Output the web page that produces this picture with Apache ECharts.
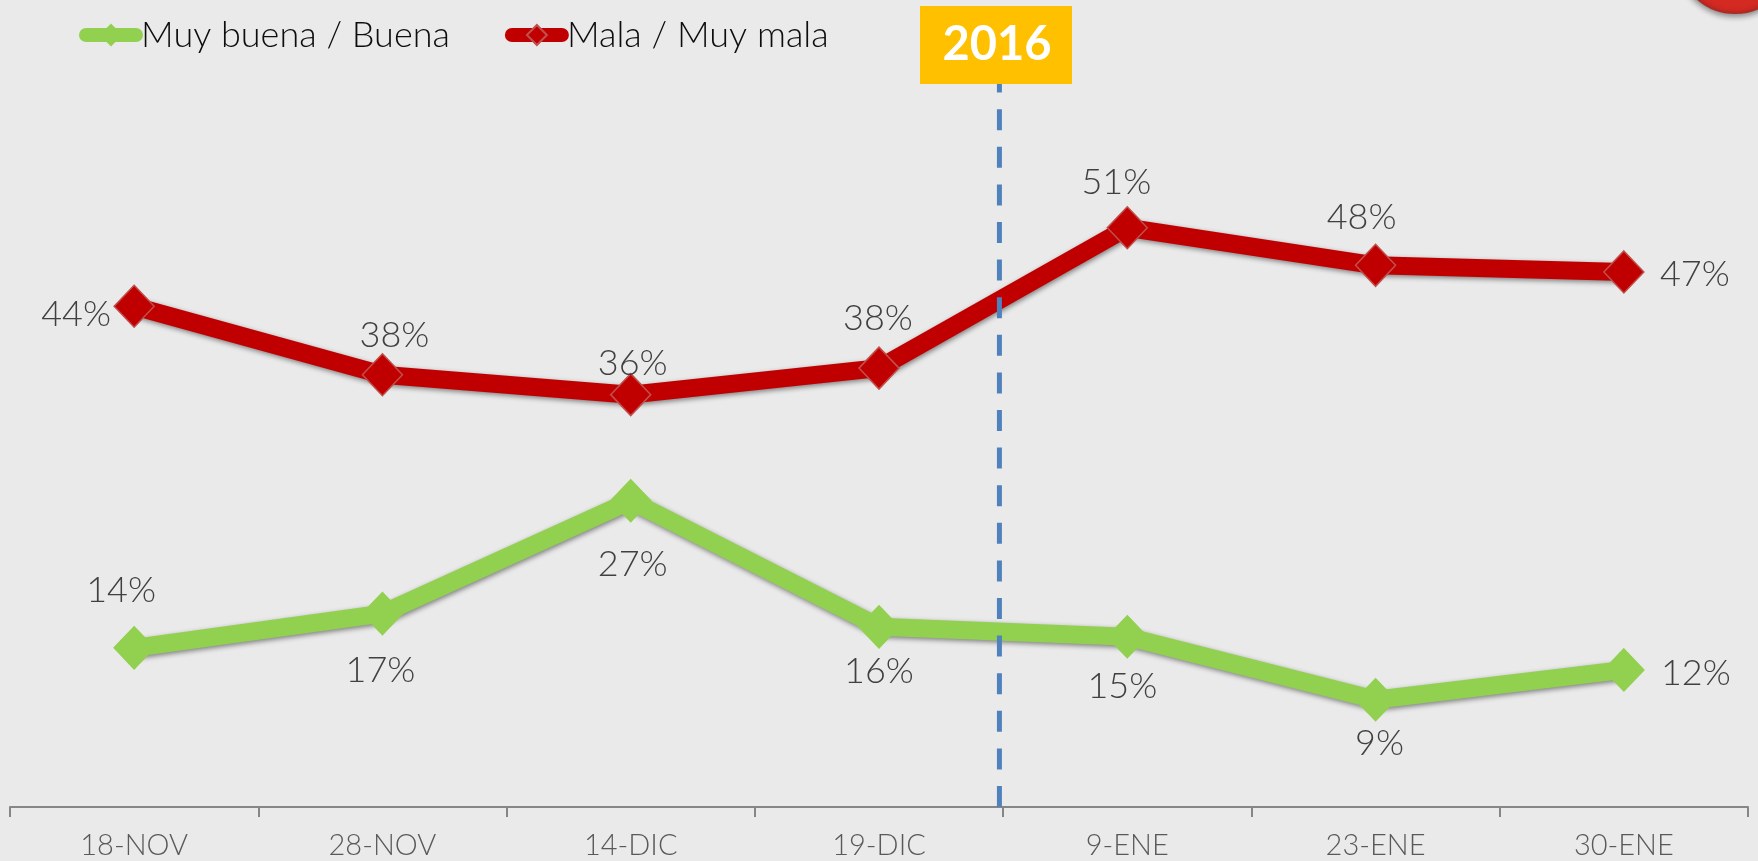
<!DOCTYPE html>
<html><head><meta charset="utf-8">
<style>html,body{margin:0;padding:0;background:#eaeaea}#c{width:1758px;height:861px}</style>
<script src="https://cdn.jsdelivr.net/npm/echarts@6/dist/echarts.min.js"></script>
</head><body><div id="c"></div>
<script>
const categories = ['18-NOV','28-NOV','14-DIC','19-DIC','9-ENE','23-ENE','30-ENE'];
const buenaValues = [13.7,16.8,27,15.6,14.7,9,11.7];
const malaValues = [44.6,38.4,36.6,39,51.7,48.3,47.7];
const buenaLabels = ['14%','17%','27%','16%','15%','9%','12%'];
const malaLabels = ['44%','38%','36%','38%','51%','48%','47%'];
const buenaLabelOffsets = [[-13,-57],[-2,57],[2,64],[0,45],[-5,50],[4,44],[72,3]];
const malaLabelOffsets = [[-58,8],[12,-39],[2,-31],[-1,-50],[-11,-45],[-14,-48],[71,2]];
const dividerX = [3.985,3.985];
const dividerY = [-0.7,65.3];
const FONT = 'Lato, "Noto Sans", sans-serif';
const labelled = (vals, labels, offs) => vals.map((v,i)=>({
  value:v,
  label:{show:true,position:'inside',formatter:labels[i],offset:offs[i],fontFamily:FONT,fontSize:36,fontWeight:300,color:'#404040'}
}));
const line = (name,color,border,vals,labels,offs)=>({
  name,type:'line',data:labelled(vals,labels,offs),symbol:'diamond',symbolSize:[40,42],
  lineStyle:{color,width:18,shadowColor:'rgba(0,0,0,0.45)',shadowBlur:5,shadowOffsetX:1,shadowOffsetY:2},
  itemStyle:{color,borderColor:border,borderWidth:1.5},
  emphasis:{disabled:true},animation:false,z:3
});
const chart = echarts.init(document.getElementById('c'));
chart.setOption({
  backgroundColor:'#eaeaea',animation:false,
  grid:{left:10,right:10,top:0,bottom:54,containLabel:false},
  legend:{left:74,top:12,itemWidth:50,itemHeight:25,itemGap:55,
    data:['Muy buena / Buena','Mala / Muy mala'],
    lineStyle:{width:14,cap:'round',shadowBlur:0,shadowOffsetX:0,shadowOffsetY:0},
    textStyle:{fontFamily:FONT,fontSize:36,fontWeight:300,color:'#0d0d0d'}},
  xAxis:[{type:'category',data:categories,boundaryGap:true,
      axisLine:{onZero:false,lineStyle:{color:'#868686',width:2}},
      axisTick:{show:true,length:10,alignWithLabel:false,lineStyle:{color:'#868686',width:2}},
      axisLabel:{fontFamily:FONT,fontSize:29,fontWeight:300,color:'#595959',margin:24,interval:0},
      splitLine:{show:false}},
    {type:'value',min:0,max:7,show:false}],
  yAxis:{type:'value',min:-0.7,max:72.3,show:false,splitLine:{show:false}},
  series:[
    line('Muy buena / Buena','#92D050','#92D050',buenaValues,buenaLabels,buenaLabelOffsets),
    line('Mala / Muy mala','#C00000','#C0504D',malaValues,malaLabels,malaLabelOffsets),
    {type:'line',xAxisIndex:1,data:dividerX.map((x,i)=>[x,dividerY[i]]),symbol:'none',silent:true,z:4,
     lineStyle:{color:'#4F81BD',width:5,type:[21,16.6]},animation:false}
  ],
  graphic:[
    {type:'rect',z:10,shape:{x:920,y:6,width:152,height:78},style:{fill:'#FFC000'}},
    {type:'text',z:11,x:997,y:45,style:{text:'2016',fill:'#fff',font:'bold 47px Lato, sans-serif',align:'center',verticalAlign:'middle'}},
    {type:'circle',z:10,shape:{cx:1735,cy:-44,r:57},style:{fill:'#D42A22',stroke:'#AE2A24',lineWidth:2,shadowBlur:6,shadowColor:'rgba(0,0,0,0.45)',shadowOffsetY:2}}
  ]
});
</script></body></html>
